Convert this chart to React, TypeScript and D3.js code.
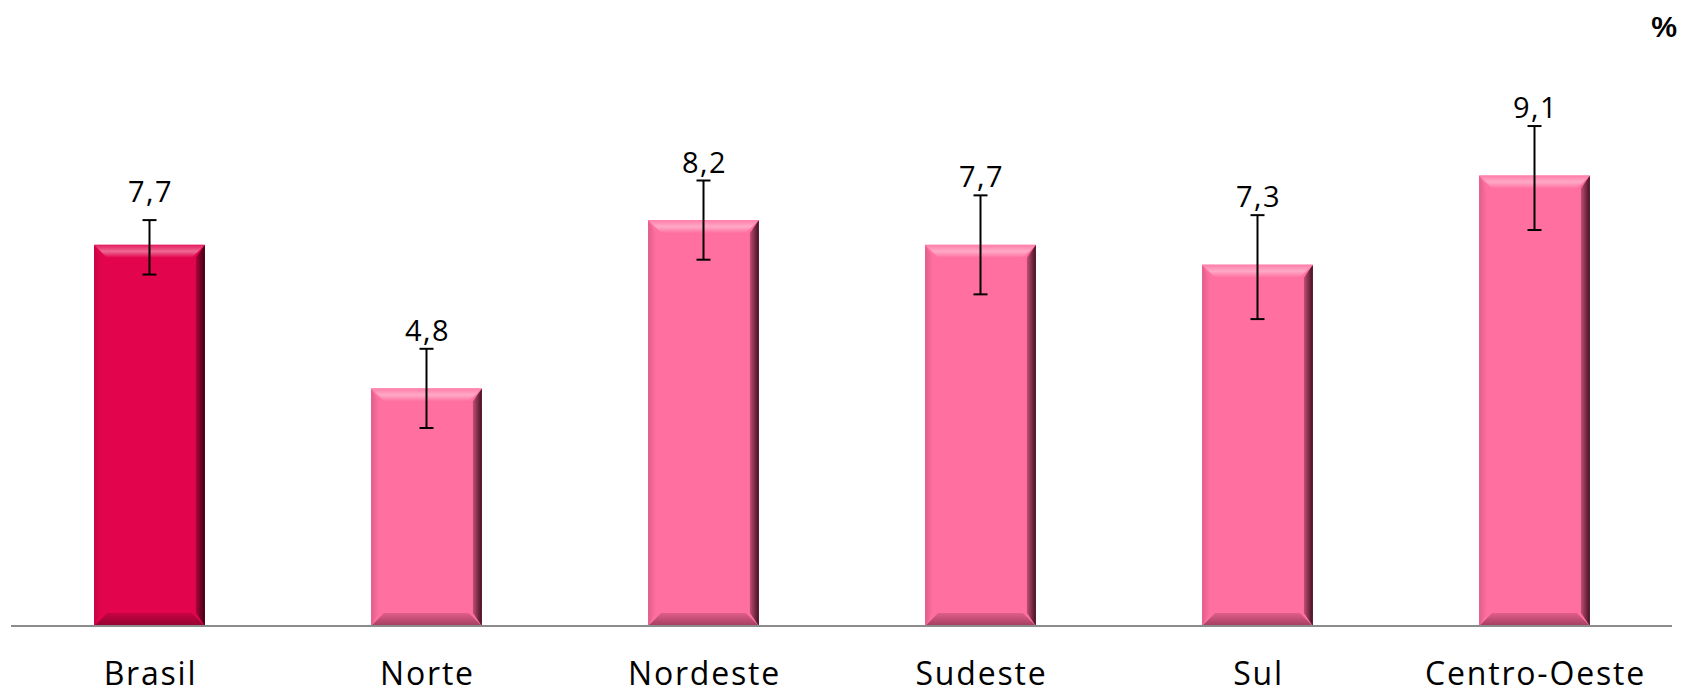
import React, { useEffect, useRef } from 'react';
import * as d3 from 'd3';

const width = 1682;
const height = 691;

// values
const categories = ['Brasil', 'Norte', 'Nordeste', 'Sudeste', 'Sul', 'Centro-Oeste'];
const values = [7.7, 4.8, 8.2, 7.7, 7.3, 9.1];
const errLow = [7.1, 4.0, 7.4, 6.7, 6.2, 8.0];
const errHigh = [8.2, 5.6, 9.0, 8.7, 8.3, 10.1];
const valueLabels = ['7,7', '4,8', '8,2', '7,7', '7,3', '9,1'];

const colors = ['#e2044d', '#ff6fa0', '#ff6fa0', '#ff6fa0', '#ff6fa0', '#ff6fa0'];

export default function App() {
	const ref = useRef<SVGSVGElement | null>(null);

	useEffect(() => {
		const svg = d3.select(ref.current);
		svg.selectAll('*').remove();

		const x = d3
			.scaleBand()
			.domain(categories)
			.range([11, 1673])
			.paddingInner(0.6)
			.paddingOuter(0.3);
		const y = d3.scaleLinear().domain([0, 10]).range([626, 131]);

		const data = categories.map((c, i) => ({
			c,
			i,
			v: values[i],
			lo: errLow[i],
			hi: errHigh[i],
			label: valueLabels[i],
			color: colors[i],
		}));

		const defs = svg.append('defs');
		data.forEach(d => {
			const light = d3.interpolateRgb(d.color, '#ffffff')(0.4);
			const dark = d3.interpolateRgb(d.color, '#200008')(0.85);
			const mid = d3.interpolateRgb(d.color, '#300010')(0.3);

			const gt = defs.append('linearGradient').attr('id', `top${d.i}`).attr('x1', 0).attr('y1', 0).attr('x2', 0).attr('y2', 1);
			gt.append('stop').attr('offset', '0%').attr('stop-color', d3.interpolateRgb(d.color, '#ffffff')(0.1));
			gt.append('stop').attr('offset', '50%').attr('stop-color', light);
			gt.append('stop').attr('offset', '100%').attr('stop-color', d.color);

			const gr = defs.append('linearGradient').attr('id', `right${d.i}`).attr('x1', 0).attr('y1', 0).attr('x2', 1).attr('y2', 0);
			gr.append('stop').attr('offset', '0%').attr('stop-color', mid);
			gr.append('stop').attr('offset', '100%').attr('stop-color', dark);

			const gb = defs.append('linearGradient').attr('id', `bot${d.i}`).attr('x1', 0).attr('y1', 0).attr('x2', 0).attr('y2', 1);
			gb.append('stop').attr('offset', '0%').attr('stop-color', d3.interpolateRgb(d.color, '#300010')(0.15));
			gb.append('stop').attr('offset', '100%').attr('stop-color', d3.interpolateRgb(d.color, '#300010')(0.45));

			const gl = defs.append('linearGradient').attr('id', `left${d.i}`).attr('x1', 0).attr('y1', 0).attr('x2', 1).attr('y2', 0);
			gl.append('stop').attr('offset', '0%').attr('stop-color', d3.interpolateRgb(d.color, '#300010')(0.15));
			gl.append('stop').attr('offset', '100%').attr('stop-color', d.color);
		});

		const b = 13; // bevel size
		const bars = svg.append('g').selectAll('g').data(data).enter().append('g');
		bars.each(function (d) {
			const g = d3.select(this);
			const x0 = x(d.c) as number;
			const x1 = x0 + x.bandwidth();
			const y0 = y(d.v);
			const y1 = y(0);
			g.append('rect').attr('x', x0).attr('y', y0).attr('width', x1 - x0).attr('height', y1 - y0).attr('fill', d.color);
			g.append('polygon')
				.attr('points', [[x0, y0], [x0 + b * 0.6, y0 + b], [x0 + b * 0.6, y1 - b], [x0, y1]].join(' '))
				.attr('fill', `url(#left${d.i})`);
			g.append('polygon')
				.attr('points', [[x0, y1], [x0 + b, y1 - b], [x1 - b, y1 - b], [x1, y1]].join(' '))
				.attr('fill', `url(#bot${d.i})`);
			g.append('polygon')
				.attr('points', [[x1, y0], [x1, y1], [x1 - 9, y1 - b], [x1 - 9, y0 + b]].join(' '))
				.attr('fill', `url(#right${d.i})`);
			g.append('polygon')
				.attr('points', [[x0, y0], [x1, y0], [x1 - b, y0 + b], [x0 + b, y0 + b]].join(' '))
				.attr('fill', `url(#top${d.i})`);
		});

		// axis line
		svg.append('line')
			.attr('x1', 11)
			.attr('x2', 1672)
			.attr('y1', y(0))
			.attr('y2', y(0))
			.attr('stroke', '#8c8c8c')
			.attr('stroke-width', 2);

		// error bars
		const cap = 7;
		const eb = svg.append('g').attr('stroke', '#000').attr('stroke-width', 2);
		data.forEach(d => {
			const cx = (x(d.c) as number) + x.bandwidth() / 2;
			eb.append('line').attr('x1', cx).attr('x2', cx).attr('y1', y(d.hi)).attr('y2', y(d.lo));
			eb.append('line').attr('x1', cx - cap).attr('x2', cx + cap).attr('y1', y(d.hi)).attr('y2', y(d.hi));
			eb.append('line').attr('x1', cx - cap).attr('x2', cx + cap).attr('y1', y(d.lo)).attr('y2', y(d.lo));
		});

		// value labels
		svg.append('g')
			.selectAll('text')
			.data(data)
			.enter()
			.append('text')
			.attr('x', d => (x(d.c) as number) + x.bandwidth() / 2 + 1)
			.attr('y', d => Math.min(y(d.hi) - 8, y(d.v) - 43))
			.attr('text-anchor', 'middle')
			.style('font', '29px "Open Sans", Arial, sans-serif')
			.style('letter-spacing', '1.5px')
			.attr('fill', '#000')
			.text(d => d.label);

		// category labels
		svg.append('g')
			.selectAll('text')
			.data(data)
			.enter()
			.append('text')
			.attr('x', d => (x(d.c) as number) + x.bandwidth() / 2 + 1)
			.attr('y', 685)
			.attr('text-anchor', 'middle')
			.style('font', '32px "Open Sans", Arial, sans-serif')
			.style('letter-spacing', '1.8px')
			.attr('fill', '#000')
			.text(d => d.c);

		svg.append('text')
			.attr('x', 1677)
			.attr('y', 37)
			.attr('text-anchor', 'end')
			.style('font', 'bold 29px "Liberation Sans", Arial, sans-serif')
			.text('%');
	}, []);

	return (
		<svg
			ref={ref}
			width={width}
			height={height}
			style={{ position: 'absolute', left: 0, top: 0, background: '#fff' }}
		/>
	);
}
